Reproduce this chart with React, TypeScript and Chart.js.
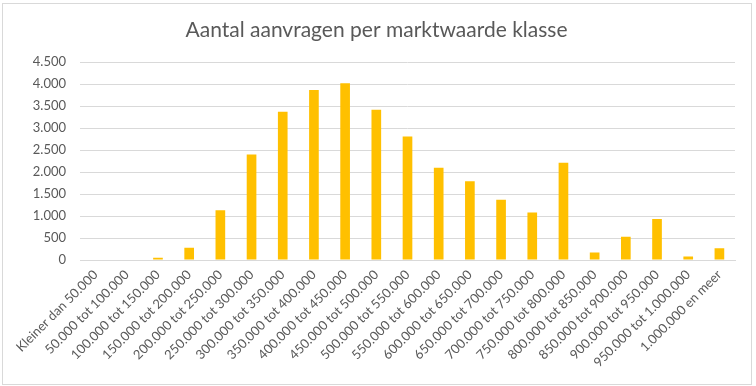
import React, { useEffect, useRef } from "react";
import { Chart, registerables } from "chart.js";

Chart.register(...registerables);

const categories: string[] = [
  "Kleiner dan 50.000",
  "50.000 tot 100.000",
  "100.000 tot 150.000",
  "150.000 tot 200.000",
  "200.000 tot 250.000",
  "250.000 tot 300.000",
  "300.000 tot 350.000",
  "350.000 tot 400.000",
  "400.000 tot 450.000",
  "450.000 tot 500.000",
  "500.000 tot 550.000",
  "550.000 tot 600.000",
  "600.000 tot 650.000",
  "650.000 tot 700.000",
  "700.000 tot 750.000",
  "750.000 tot 800.000",
  "800.000 tot 850.000",
  "850.000 tot 900.000",
  "900.000 tot 950.000",
  "950.000 tot 1.000.000",
  "1.000.000 en meer",
];

const aanvragen: number[] = [
  0, 0, 50, 280, 1130, 2400, 3370, 3870, 4020, 3420, 2810, 2100, 1790, 1370,
  1080, 2210, 170, 530, 930, 80, 270,
];

const titleText = "Aantal aanvragen per marktwaarde klasse";

const yMin = 0;
const yMax = 4500;
const yStep = 500;

const formatNL = (v: number) =>
  Math.round(v)
    .toString()
    .replace(/\B(?=(\d{3})+(?!\d))/g, ".");

export default function App() {
  const ref = useRef<HTMLCanvasElement | null>(null);

  useEffect(() => {
    if (!ref.current) return;
    const textColor = "#595959";
    const gridColor = "#D9D9D9";
    const chart = new Chart(ref.current, {
      type: "bar",
      data: {
        labels: categories,
        datasets: [
          {
            label: "Aantal aanvragen",
            data: aanvragen,
            backgroundColor: "#FFC000",
            borderWidth: 0,
            categoryPercentage: 1,
            barPercentage: 0.31,
          },
        ],
      },
      options: {
        animation: false,
        responsive: false,
        maintainAspectRatio: false,
        layout: { padding: { left: 18, right: 21, top: 0, bottom: 0 } },
        plugins: {
          legend: { display: false },
          tooltip: { enabled: false },
          title: {
            display: true,
            text: titleText,
            color: textColor,
            font: { family: "Lato", size: 21, weight: "normal" },
            padding: { top: 18, bottom: 19 },
          },
        },
        scales: {
          x: {
            grid: { display: false, drawTicks: false },
            border: { display: true, color: gridColor, width: 1 },
            ticks: {
              color: textColor,
              font: { family: "Lato", size: 13 },
              minRotation: 45,
              maxRotation: 45,
              autoSkip: false,
              padding: 7,
            },
            afterFit: (s: any) => {
              s.height = 126;
            },
          },
          y: {
            min: yMin,
            max: yMax,
            grid: { color: gridColor, drawTicks: false, lineWidth: 1 },
            border: { display: false },
            ticks: {
              stepSize: yStep,
              color: textColor,
              font: { family: "Lato", size: 13 },
              padding: 14,
              callback: (v: any) => formatNL(Number(v)),
            },
            afterFit: (s: any) => {
              s.width = 62;
            },
          },
        },
      },
    });
    return () => chart.destroy();
  }, []);

  return (
    <div
      style={{
        position: "fixed",
        left: 0,
        top: 0,
        width: 756,
        height: 386,
        background: "#ffffff",
      }}
    >
      <div
        style={{
          position: "absolute",
          left: 2,
          top: 3,
          width: 748,
          height: 380,
          border: "1px solid #D9D9D9",
        }}
      />
      <canvas
        ref={ref}
        width={756}
        height={386}
        style={{ position: "absolute", left: 0, top: 0, width: 756, height: 386 }}
      />
    </div>
  );
}
